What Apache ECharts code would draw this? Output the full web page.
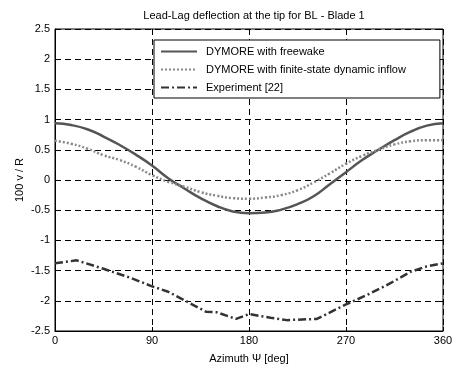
<!DOCTYPE html>
<html>
<head>
<meta charset="utf-8">
<script src="https://cdn.jsdelivr.net/npm/echarts@6/dist/echarts.min.js"></script>
<style>
  html, body { margin: 0; padding: 0; background: #fff; }
  #chart { width: 457px; height: 369px; }
</style>
</head>
<body>
<div id="chart"></div>
<script>
// azimuth grid for the two DYMORE curves (deg)
const azimuth = [0, 15, 30, 45, 60, 75, 90, 105, 120, 135, 150, 165, 180,
  195, 210, 225, 240, 255, 270, 285, 300, 315, 330, 345, 360];
const freewake = [0.94, 0.91, 0.84, 0.72, 0.58, 0.42, 0.24, 0.03, -0.14, -0.30, -0.43, -0.52, -0.55,
  -0.54, -0.49, -0.40, -0.27, -0.07, 0.13, 0.33, 0.50, 0.66, 0.80, 0.90, 0.94];
const finiteState = [0.65, 0.60, 0.52, 0.41, 0.33, 0.22, 0.08, -0.03, -0.11, -0.20, -0.26, -0.30, -0.31,
  -0.29, -0.25, -0.17, -0.04, 0.11, 0.27, 0.40, 0.50, 0.59, 0.64, 0.66, 0.66];
// experiment points
const expAzimuth = [0, 20, 45, 70, 90, 105, 120, 140, 150, 168, 180, 200, 215, 243, 270, 290, 310, 330, 345, 360];
const expValues = [-1.38, -1.33, -1.47, -1.62, -1.76, -1.85, -1.99, -2.18, -2.19, -2.30, -2.22, -2.28, -2.32,
  -2.30, -2.06, -1.90, -1.72, -1.52, -1.43, -1.38];

const xTicks = [0, 90, 180, 270, 360];
const FONT = 'Liberation Sans, Arial, sans-serif';

const pairs = (xs, ys) => xs.map((x, i) => [x, ys[i]]);

const chart = echarts.init(document.getElementById('chart'), null, { renderer: 'canvas' });

const gridLine = { show: true, lineStyle: { color: '#000', width: 1, type: [6, 4] } };
const innerTick = { show: true, inside: true, length: 4, lineStyle: { color: '#000' } };

chart.setOption({
  backgroundColor: '#fff',
  animation: false,
  title: {
    text: 'Lead-Lag deflection at the tip for BL - Blade 1',
    left: 249, top: 5, textAlign: 'center',
    textStyle: { fontFamily: FONT, fontSize: 11, fontWeight: 'normal', color: '#000' }
  },
  grid: { left: 55, right: 14, top: 29, bottom: 36, show: true, borderColor: '#000', borderWidth: 1 },
  xAxis: [{
    type: 'value', min: 0, max: 360, interval: 90,
    name: 'Azimuth Ψ [deg]', nameLocation: 'middle', nameGap: 22,
    nameTextStyle: { fontFamily: FONT, fontSize: 11, color: '#000' },
    axisLine: { show: true, onZero: false, lineStyle: { color: '#000' } },
    axisTick: innerTick,
    axisLabel: { fontFamily: FONT, fontSize: 11, color: '#000', margin: 4,
      formatter: v => xTicks.includes(v) ? String(v) : '' },
    splitLine: gridLine
  }, {
    type: 'value', min: 0, max: 360, interval: 90, position: 'top',
    axisLine: { show: false, onZero: false },
    axisTick: innerTick,
    axisLabel: { show: false }, splitLine: { show: false }
  }],
  yAxis: [{
    type: 'value', min: -2.5, max: 2.5, interval: 0.5,
    name: '100 v / R', nameLocation: 'middle', nameGap: 30, nameMoveOverlap: false,
    nameTextStyle: { fontFamily: FONT, fontSize: 11, color: '#000' },
    axisLine: { show: true, onZero: false, lineStyle: { color: '#000' } },
    axisTick: innerTick,
    axisLabel: { fontFamily: FONT, fontSize: 11, color: '#000', margin: 5 },
    splitLine: gridLine
  }, {
    type: 'value', min: -2.5, max: 2.5, interval: 0.5, position: 'right',
    axisLine: { show: false, onZero: false },
    axisTick: innerTick,
    axisLabel: { show: false }, splitLine: { show: false }
  }],
  legend: {
    orient: 'vertical', left: 154, top: 40,
    padding: [6, 34, 5, 6], itemGap: 7, itemWidth: 36, itemHeight: 12,
    backgroundColor: '#fff', borderColor: '#000', borderWidth: 1, borderRadius: 0,
    itemStyle: { opacity: 0 },
    textStyle: { fontFamily: FONT, fontSize: 11, color: '#000', padding: [0, 0, 0, 4] },
    data: ['DYMORE with freewake', 'DYMORE with finite-state dynamic inflow', 'Experiment [22]']
  },
  series: [
    {
      name: 'DYMORE with freewake', type: 'line', symbol: 'none', smooth: true,
      data: pairs(azimuth, freewake),
      lineStyle: { color: '#555', width: 2.5 }, itemStyle: { color: '#555' }
    },
    {
      name: 'DYMORE with finite-state dynamic inflow', type: 'line', symbol: 'none', smooth: true,
      data: pairs(azimuth, finiteState),
      lineStyle: { color: '#888', width: 2.5, type: [2, 2] }, itemStyle: { color: '#888' }
    },
    {
      name: 'Experiment [22]', type: 'line', symbol: 'none',
      data: pairs(expAzimuth, expValues),
      lineStyle: { color: '#333', width: 2.5, type: [8, 3, 2, 3] }, itemStyle: { color: '#333' }
    }
  ]
});
</script>
</body>
</html>
